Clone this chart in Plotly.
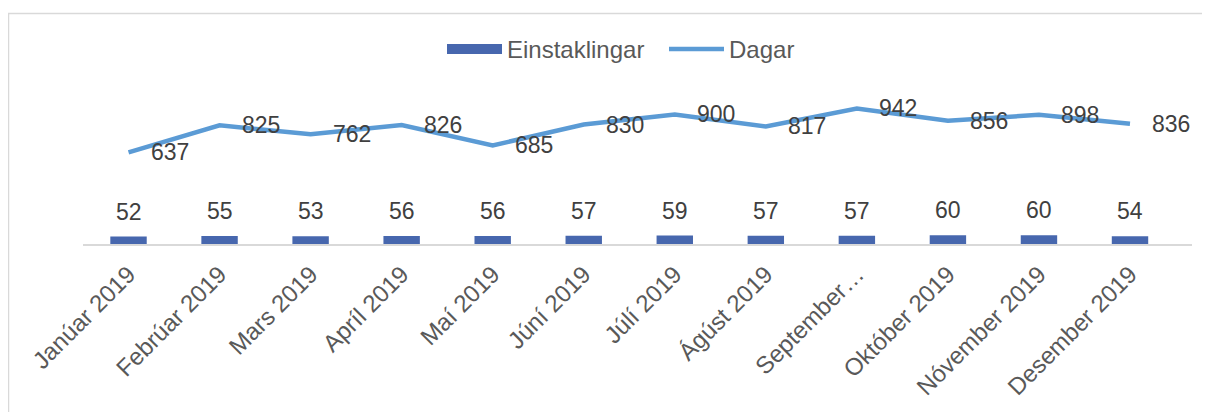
import plotly.graph_objects as go

months = ["Janúar 2019", "Febrúar 2019", "Mars 2019", "Apríl 2019", "Maí 2019", "Júní 2019",
          "Júlí 2019", "Ágúst 2019", "September…", "Október 2019", "Nóvember 2019", "Desember 2019"]
einstaklingar = [52, 55, 53, 56, 56, 57, 59, 57, 57, 60, 60, 54]
dagar = [637, 825, 762, 826, 685, 830, 900, 817, 942, 856, 898, 836]

FONT = "Arial, 'Liberation Sans', sans-serif"
BAR_C = "#4767AE"
LINE_C = "#5B9BD5"

fig = go.Figure()
fig.add_trace(go.Bar(x=months, y=einstaklingar, name="Einstaklingar", legendgroup="e",
                     showlegend=False,
                     marker=dict(color=BAR_C, line=dict(width=0)), width=0.4))
# legend swatch for the bars (wide rectangle like the original)
fig.add_trace(go.Scatter(x=[None], y=[None], name="Einstaklingar", legendgroup="e",
                         mode="lines", line=dict(color=BAR_C, width=13)))
fig.add_trace(go.Scatter(x=months, y=dagar, name="Dagar", mode="lines",
                         line=dict(color=LINE_C, width=4.5)))

annotations = []
for m, v in zip(months, einstaklingar):
    annotations.append(dict(x=m, y=v, text=str(v), showarrow=False, xanchor="center",
                            yanchor="middle", yshift=25,
                            font=dict(family=FONT, size=23, color="#404040")))
for m, v in zip(months, dagar):
    annotations.append(dict(x=m, y=v, text=str(v), showarrow=False, xanchor="left",
                            yanchor="middle", xshift=20,
                            font=dict(family=FONT, size=23, color="#404040")))

# page offset 8px (body margin); plot area in page px: x 83..1192, y 71..247
OFF = 8
pw, ph = 1109.0, 176.0
def px(x):
    return (x - 83) / pw
def py(y):
    return (247 - y) / ph

fig.update_layout(
    width=1202, height=404,
    margin=dict(l=83 - OFF, r=18, t=71 - OFF, b=157, pad=0),
    paper_bgcolor="white", plot_bgcolor="white",
    font=dict(family=FONT, size=24, color="#595959"),
    bargap=0.6,
    showlegend=True,
    legend=dict(orientation="h", x=px(442), xanchor="left", y=py(49), yanchor="middle",
                font=dict(family=FONT, size=24, color="#595959"),
                itemwidth=55, entrywidth=152, entrywidthmode="pixels",
                bgcolor="rgba(0,0,0,0)", tracegroupgap=0),
    xaxis=dict(type="category", showgrid=False, zeroline=False, showline=True,
               linecolor="#D9D9D9", linewidth=1.5, tickangle=-45, ticks="",
               ticklabelstandoff=5,
               tickfont=dict(family=FONT, size=24, color="#595959")),
    yaxis=dict(range=[0, 1202], visible=False, showgrid=False, zeroline=False),
    annotations=annotations,
    shapes=[dict(type="rect", xref="paper", yref="paper",
                 x0=px(8.5), x1=px(1230), y0=py(440), y1=py(12.5),
                 line=dict(color="#D9D9D9", width=1.5), fillcolor="rgba(0,0,0,0)",
                 layer="below")],
)

fig.write_html("out.html")
